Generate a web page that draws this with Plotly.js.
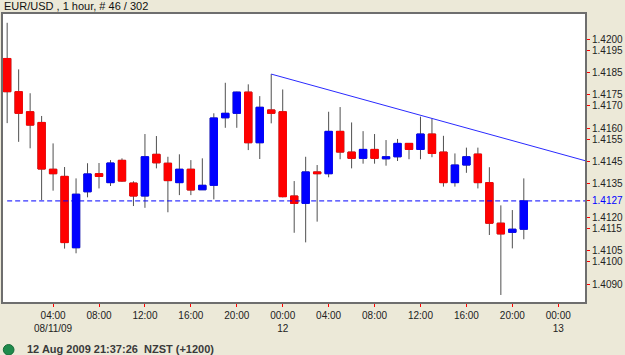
<!DOCTYPE html>
<html>
<head>
<meta charset="utf-8">
<script src="https://cdn.plot.ly/plotly-3.0.1.min.js"></script>
<style>
html,body{margin:0;padding:0;background:#ECE9D8;}
#chart{width:625px;height:355px;}
</style>
</head>
<body>
<div id="chart"></div>
<script>
// Hourly candles, 11 Aug 2009 00:00 to 12 Aug 2009 21:00 (46 bars)
const times = [
  '2009-08-11 00:00','2009-08-11 01:00','2009-08-11 02:00','2009-08-11 03:00','2009-08-11 04:00','2009-08-11 05:00',
  '2009-08-11 06:00','2009-08-11 07:00','2009-08-11 08:00','2009-08-11 09:00','2009-08-11 10:00','2009-08-11 11:00',
  '2009-08-11 12:00','2009-08-11 13:00','2009-08-11 14:00','2009-08-11 15:00','2009-08-11 16:00','2009-08-11 17:00',
  '2009-08-11 18:00','2009-08-11 19:00','2009-08-11 20:00','2009-08-11 21:00','2009-08-11 22:00','2009-08-11 23:00',
  '2009-08-12 00:00','2009-08-12 01:00','2009-08-12 02:00','2009-08-12 03:00','2009-08-12 04:00','2009-08-12 05:00',
  '2009-08-12 06:00','2009-08-12 07:00','2009-08-12 08:00','2009-08-12 09:00','2009-08-12 10:00','2009-08-12 11:00',
  '2009-08-12 12:00','2009-08-12 13:00','2009-08-12 14:00','2009-08-12 15:00','2009-08-12 16:00','2009-08-12 17:00',
  '2009-08-12 18:00','2009-08-12 19:00','2009-08-12 20:00','2009-08-12 21:00'
];
const opens = [
  1.41913,1.41764,1.41674,1.41626,1.41416,1.41384,1.41064,1.41315,1.41396,1.41356,1.41456,1.41354,
  1.41296,1.41483,1.41443,1.41356,1.41416,1.41324,1.41344,1.41647,1.41667,1.41762,1.41535,1.41682,
  1.41674,1.41296,1.41263,1.41404,1.41396,1.41586,1.41493,1.41465,1.41505,1.41463,1.41472,1.41532,
  1.41505,1.41574,1.41493,1.41356,1.41435,1.41484,1.41356,1.41174,1.41133,1.41147
];
const highs = [
  1.42073,1.41864,1.41757,1.41655,1.41532,1.41426,1.41375,1.41443,1.41444,1.41457,1.41465,1.41362,
  1.41574,1.41565,1.41472,1.41483,1.41457,1.41465,1.41667,1.41804,1.41764,1.41797,1.41744,1.41843,
  1.41774,1.41363,1.41472,1.41435,1.41674,1.41695,1.41626,1.41587,1.41574,1.41547,1.41552,1.41532,
  1.41652,1.41644,1.41566,1.41487,1.41513,1.41513,1.41425,1.41254,1.41233,1.41375
];
const lows = [
  1.41623,1.41539,1.41510,1.41278,1.41320,1.41060,1.41039,1.41290,1.41330,1.41341,1.41360,1.41251,
  1.41243,1.41420,1.41223,1.41300,1.41300,1.41323,1.41281,1.41602,1.41602,1.41502,1.41462,1.41622,
  1.41290,1.41131,1.41088,1.41181,1.41380,1.41461,1.41420,1.41441,1.41441,1.41432,1.41453,1.41461,
  1.41461,1.41470,1.41338,1.41338,1.41400,1.41330,1.41121,1.40852,1.41061,1.41102
];
const closes = [
  1.41764,1.41667,1.41614,1.41417,1.41396,1.41087,1.41304,1.41395,1.41384,1.41444,1.41363,1.41296,
  1.41472,1.41445,1.41365,1.41416,1.41323,1.41344,1.41646,1.41667,1.41762,1.41535,1.41694,1.41667,
  1.41293,1.41263,1.41404,1.41396,1.41586,1.41493,1.41465,1.41505,1.41465,1.41472,1.41532,1.41505,
  1.41574,1.41487,1.41356,1.41435,1.41472,1.41356,1.41174,1.41126,1.41147,1.41274
];
// Trend line anchors (indices of the two touching highs)
const trendFrom = 23, trendTo = 37;

const yTickVals = [1.4200,1.4195,1.4185,1.4175,1.4170,1.4160,1.4155,1.4145,1.4135,1.41274,1.4120,1.4115,1.4105,1.4100,1.4090];
const yTickText = ['1.4200','1.4195','1.4185','1.4175','1.4170','1.4160','1.4155','1.4145','1.4135',
  '<span style="color:#0000FF">1.4127</span>','1.4120','1.4115','1.4105','1.4100','1.4090'];
const xTickVals = ['2009-08-11 04:00','2009-08-11 08:00','2009-08-11 12:00','2009-08-11 16:00','2009-08-11 20:00',
  '2009-08-12 00:00','2009-08-12 04:00','2009-08-12 08:00','2009-08-12 12:00','2009-08-12 16:00','2009-08-12 20:00','2009-08-13 00:00'];
const xTickText = ['04:00<br>08/11/09','08:00','12:00','16:00','20:00','00:00<br>12',
  '04:00','08:00','12:00','16:00','20:00','00:00<br>13'];

const title = 'EUR/USD , 1 hour, # 46 / 302';
const status = '12 Aug 2009 21:37:26  NZST (+1200)';

const xRange = ['2009-08-10 23:33','2009-08-13 02:25'];
const yRange = [1.40816, 1.42117];

// derived
const bodyHi = opens.map((o,i)=>Math.max(o,closes[i]));
const bodyLo = opens.map((o,i)=>Math.min(o,closes[i]));
const t = s => new Date(s.replace(' ','T')+':00Z').getTime();
const slope = (highs[trendTo]-highs[trendFrom])/(t(times[trendTo])-t(times[trendFrom]));
const trendEndY = highs[trendFrom] + slope*(t(xRange[1])-t(times[trendFrom]));
const lastClose = closes[closes.length-1];

const wick = {
  type:'candlestick', x: times, open: opens, high: highs, low: lows, close: closes,
  increasing:{line:{color:'#505050',width:1}, fillcolor:'#505050'},
  decreasing:{line:{color:'#505050',width:1}, fillcolor:'#505050'},
  whiskerwidth:0, hoverinfo:'skip'
};
const body = {
  type:'candlestick', x: times, open: opens, high: bodyHi, low: bodyLo, close: closes,
  increasing:{line:{color:'#0000FF',width:1}, fillcolor:'#0000FF'},
  decreasing:{line:{color:'#FF0000',width:1}, fillcolor:'#FF0000'},
  whiskerwidth:0, hoverinfo:'skip'
};
const trend = {
  type:'scatter', mode:'lines', x:[times[trendFrom], xRange[1]], y:[highs[trendFrom], trendEndY],
  line:{color:'#2a2aff',width:1}, hoverinfo:'skip', cliponaxis:true
};
const lastLine = {
  type:'scatter', mode:'lines', x:[times[0], xRange[1]], y:[lastClose,lastClose],
  line:{color:'#0000FF',width:1,dash:'5px,3px'}, hoverinfo:'skip'
};

const layout = {
  width:625, height:355,
  margin:{l:2,r:39,t:13,b:52},
  paper_bgcolor:'#ECE9D8', plot_bgcolor:'#FFFFFF',
  showlegend:false, hovermode:false, dragmode:false,
  boxgap:0.2, boxgroupgap:0.2, boxmode:'overlay',
  font:{family:'Liberation Sans, Arial, sans-serif', size:10, color:'#222'},
  xaxis:{type:'date', range:xRange, rangeslider:{visible:false},
    tickmode:'array', tickvals:xTickVals, ticktext:xTickText,
    ticks:'outside', ticklen:3, tickcolor:'#FF0000', tickwidth:1,
    showgrid:false, zeroline:false, showline:false,
    tickfont:{size:10,color:'#222'}, fixedrange:true},
  yaxis:{side:'right', range:yRange, tickmode:'array', tickvals:yTickVals, ticktext:yTickText,
    ticks:'outside', ticklen:3, tickcolor:'#FF0000', tickwidth:1,
    showgrid:false, zeroline:false, showline:false,
    tickfont:{size:10,color:'#222'}, fixedrange:true},
  shapes:[
    {type:'rect', xref:'paper', yref:'paper', x0:0, x1:1, y0:0, y1:1, line:{color:'#6e6e6e',width:2}, layer:'above'},
    {type:'circle', xref:'paper', yref:'paper', x0:(3.3-2)/584, x1:(14-2)/584, y0:(303-355)/290, y1:(303-344.5)/290,
      fillcolor:'#1f8a4c', line:{color:'#156b38',width:1}}
  ],
  annotations:[
    {text:title, xref:'paper', yref:'paper', x:0, y:(303-6)/290, xanchor:'left', yanchor:'middle', showarrow:false,
      font:{size:11,color:'#111'}},
    {text:'<b>'+status+'</b>', xref:'paper', yref:'paper', x:(25-2)/584, y:(303-348.5)/290, xanchor:'left', yanchor:'middle', showarrow:false,
      font:{size:11,color:'#3a3a3a'}}
  ]
};

Plotly.newPlot('chart',[wick, body, lastLine, trend], layout, {staticPlot:true, displayModeBar:false});
</script>
</body>
</html>
